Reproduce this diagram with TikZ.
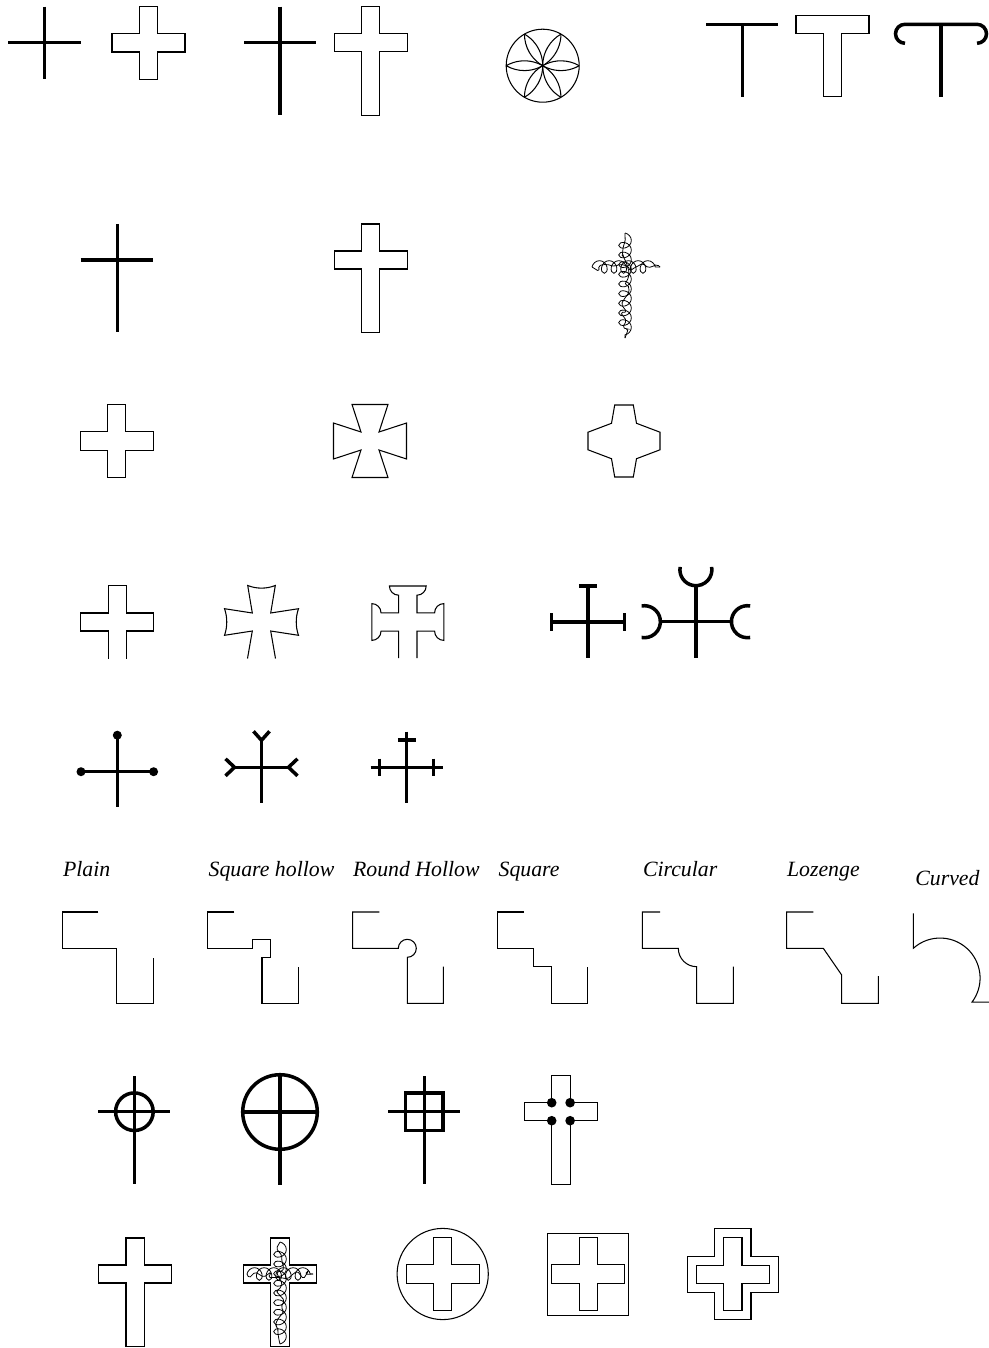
\documentclass[tikz,border=0pt]{standalone}
\usepackage{fontspec}
\setmainfont{Liberation Serif}
\usetikzlibrary{decorations.pathmorphing}
\tikzset{
  outline/.style={line width=0.6pt},
  bold/.style={line width=2pt},
  thorn/.style={line width=0.45pt, decorate, decoration={coil, amplitude=3.6pt, segment length=5.5pt, aspect=0.8}},
  bramble/.style={line width=0.45pt, rounded corners=1pt, decorate, decoration={random steps, segment length=3pt, amplitude=3pt}},
  lbl/.style={font=\fontsize{12.4}{14}\selectfont\itshape, inner sep=0pt, anchor=base west},
  pics/greek/.style 2 args={code={\draw[outline] (-#2,-#1) -- (#2,-#1) -- (#2,-#2) -- (#1,-#2) -- (#1,#2) -- (#2,#2) -- (#2,#1) -- (-#2,#1) -- (-#2,#2) -- (-#1,#2) -- (-#1,-#2) -- (-#2,-#2) -- cycle;}},
  pics/latin/.style={code={\draw[outline] (-9.2,-36) -- (9.2,-36) -- (9.2,-9) -- (36.5,-9) -- (36.5,9) -- (9.2,9) -- (9.2,72.5) -- (-9.2,72.5) -- (-9.2,9) -- (-36.5,9) -- (-36.5,-9) -- (-9.2,-9) -- cycle;}},
}
\begin{document}
\begin{tikzpicture}[x=0.02cm, y=-0.02cm]
\pgfmathsetseed{11}
\useasboundingbox (0,0) rectangle (989,1348);
\draw[bold] (44.5,6.7) -- (44.5,79);
\draw[bold] (8.3,42.7) -- (80.7,42.7);
\pic at (148.5,42.8) {greek={36.5}{9.2}};
\draw[bold] (280,6.7) -- (280,115);
\draw[bold] (244,42.7) -- (316,42.7);
\pic at (370.7,42.7) {latin};
\begin{scope}[shift={(542.7,65.7)}]
\draw[outline] (0,0) circle[radius=36.5];
\foreach \a in {0,60,...,300}
  \draw[outline] (\a+60:36.5) arc[start angle=\a+120, end angle=\a+240, radius=36.5];
\end{scope}
\draw[bold] (706,24.3) -- (778.3,24.3);
\draw[bold] (742.3,24.3) -- (742.3,96.7);
\draw[outline] (796,15.7) -- (869,15.7) -- (869,33.3) -- (841.7,33.3) -- (841.7,96.7) -- (823.3,96.7) -- (823.3,33.3) -- (796,33.3) -- cycle;
\draw[bold] (905,43.3) arc[start angle=90, end angle=270, radius=9.5] -- (977,24.3) arc[start angle=-90, end angle=90, radius=9.5];
\draw[bold] (941,24.3) -- (941,96.7);
\draw[bold] (117.3,224) -- (117.3,332.3);
\draw[bold] (80.7,260) -- (153.3,260);
\pic at (370.7,260) {latin};
\begin{scope}[shift={(625,267)}]
\draw[thorn] (0,-34) -- (0,71);
\draw[thorn] (-33,0) -- (35,0);
\draw[bramble] (0,-34) -- (0,71);
\draw[bramble] (-33,0) -- (35,0);
\end{scope}
\pic at (116.7,441) {greek={36.5}{9.2}};
\begin{scope}[shift={(370,441)}]
\draw[outline] (-18,-36.5) -- (18,-36.5) -- (9,-9) -- (36.5,-18) -- (36.5,18) -- (9,9) -- (18,36.5) -- (-18,36.5) -- (-9,9) -- (-36.5,18) -- (-36.5,-18) -- (-9,-9) -- cycle;
\end{scope}
\begin{scope}[shift={(624,441)}]
\draw[outline] (-9.3,-36) -- (9.3,-36) -- (12.5,-17.7) -- (36,-8.8) -- (36,8.8) -- (12.5,17.7) -- (9.3,36) -- (-9.3,36) -- (-12.5,17.7) -- (-36,8.8) -- (-36,-8.8) -- (-12.5,-17.7) -- cycle;
\end{scope}
\begin{scope}[shift={(117.4,622)}]
\draw[outline] (-9.2,36.5) -- (-9.2,9) -- (-36.5,9) -- (-36.5,-9) -- (-9.2,-9) -- (-9.2,-36.5) -- (9.2,-36.5) -- (9.2,-9) -- (36.5,-9) -- (36.5,9) -- (9.2,9) -- (9.2,36.5);
\end{scope}
\begin{scope}[shift={(261.5,622)}]
\draw[outline] (-14,36.5) -- (-9.2,9) -- (-37,13.3) .. controls (-34,5) and (-34,-5) .. (-37,-13.3) -- (-9.2,-9) -- (-13.8,-36.5) .. controls (-5,-33) and (5,-33) .. (13.8,-36.5) -- (9.2,-9) -- (37,-13.3) .. controls (34,-5) and (34,5) .. (37,13.3) -- (9.2,9) -- (14,36.5);
\end{scope}
\begin{scope}[shift={(407.8,622)}]
\draw[outline] (-9.2,36) -- (-9.2,9.2) -- (-26.8,9.2) arc[start angle=0, end angle=90, radius=9.2] -- (-36,-18.4) arc[start angle=270, end angle=360, radius=9.2] -- (-9.2,-9.2) -- (-9.2,-26.8) arc[start angle=90, end angle=180, radius=9.2] -- (18.4,-36) arc[start angle=0, end angle=90, radius=9.2] -- (9.2,-9.2) -- (26.8,-9.2) arc[start angle=180, end angle=270, radius=9.2] -- (36,18.4) arc[start angle=90, end angle=180, radius=9.2] -- (9.2,9.2) -- (9.2,36);
\end{scope}
\begin{scope}[shift={(588,622)}]
\draw[bold] (0,-36) -- (0,36);
\draw[bold] (-36.5,0) -- (36.5,0);
\draw[bold] (-9.2,-36) -- (9.2,-36);
\draw[bold] (-36.5,-9) -- (-36.5,9);
\draw[bold] (36.5,-9) -- (36.5,9);
\end{scope}
\begin{scope}[shift={(695.9,621.7)}]
\draw[bold] (0,-36) -- (0,36);
\draw[bold] (-35.5,0) -- (35.5,0);
\draw[bold] (190:16) ++(0,-52) arc[start angle=190, end angle=-10, radius=16];
\draw[bold] (-51.5,0) ++(-100:16) arc[start angle=-100, end angle=100, radius=16];
\draw[bold] (51.5,0) ++(-80:16) arc[start angle=-80, end angle=-280, radius=16];
\end{scope}
\begin{scope}[shift={(117.3,771.7)}]
\draw[bold] (0,-36.5) -- (0,35.6);
\draw[bold] (-36.3,0) -- (36.3,0);
\foreach \p in {(0,-36.5),(-36.3,0),(36.3,0)}
  \fill \p circle[radius=4.5];
\end{scope}
\begin{scope}[shift={(261.5,767.3)}]
\draw[bold] (0,-27) -- (0,36);
\draw[bold] (-27,0) -- (27,0);
\draw[bold] (-8,-36) -- (0,-27) -- (8,-36);
\draw[bold] (-36,-8.5) -- (-27,0) -- (-36,8.5);
\draw[bold] (36,-8.5) -- (27,0) -- (36,8.5);
\end{scope}
\begin{scope}[shift={(406.7,767.3)}]
\draw[bold] (0,-35.6) -- (0,36);
\draw[bold] (-36,0) -- (36,0);
\draw[bold] (-8.8,-27.3) -- (8.8,-27.3);
\draw[bold] (-27,-8.8) -- (-27,8.8);
\draw[bold] (27,-8.8) -- (27,8.8);
\end{scope}
\node[lbl] (plain) at (62.7,876) {Plain};
\node[lbl] (sqhollow) at (208.3,876) {Square hollow};
\node[lbl] (rdhollow) at (352.7,876) {Round Hollow};
\node[lbl] (square) at (498.3,876) {Square};
\node[lbl] (circular) at (642.7,876) {Circular};
\node[lbl] (lozenge) at (786.7,876) {Lozenge};
\node[lbl] (curved) at (915,885) {Curved};
\draw[outline] (98.3,912) -- (62.7,912) -- (62.7,948.3) -- (116.7,948.3) -- (116.7,1003.3) -- (153.3,1003.3) -- (153.3,957.7);
\draw[outline] (234.3,912) -- (207.3,912) -- (207.3,948.3) -- (252.7,948.3) -- (252.7,939.3) -- (270.7,939.3) -- (270.7,957.3) -- (262,957.3) -- (262,1003.3) -- (298.3,1003.3) -- (298.3,966.7);
\draw[outline] (379.3,912) -- (352.7,912) -- (352.7,948.3) -- (398.3,948.3) arc[start angle=180, end angle=450, radius=9] -- (407.3,1003.3) -- (443.3,1003.3) -- (443.3,966.7);
\draw[outline] (524,912) -- (497.3,912) -- (497.3,948.3) -- (533.3,948.3) -- (533.3,966.7) -- (551.7,966.7) -- (551.7,1003.3) -- (587.3,1003.3) -- (587.3,966.7);
\draw[outline] (660,912) -- (642.3,912) -- (642.3,948.3) -- (678.3,948.3) arc[start angle=180, end angle=90, radius=18.4] -- (696.7,1003.3) -- (733.3,1003.3) -- (733.3,966.7);
\draw[outline] (813.3,912) -- (786.7,912) -- (786.7,948.3) -- (823.3,948.3) -- (841.7,975) -- (841.7,1003.3) -- (878.3,1003.3) -- (878.3,976);
\draw[outline] (913.3,913.3) -- (913.3,948.3) arc[start angle=-132, end angle=37, radius=40] -- ++(18,0);
\begin{scope}[shift={(134.4,1111.7)}]
\draw[bold] (0,-35.7) -- (0,72.3);
\draw[bold] (-36,0) -- (36,0);
\draw[bold] (0,0) circle[radius=18.8];
\end{scope}
\begin{scope}[shift={(280,1112)}]
\draw[bold] (0,0) circle[radius=37.3];
\draw[bold] (0,-37.3) -- (0,73);
\draw[bold] (-37.3,0) -- (37.3,0);
\end{scope}
\begin{scope}[shift={(424.4,1111.7)}]
\draw[bold] (0,-35.7) -- (0,72.3);
\draw[bold] (-36,0) -- (36,0);
\draw[bold] (-18.8,-18.8) rectangle (18.8,18.8);
\end{scope}
\pic at (560.9,1111.7) {latin};
\foreach \p in {(551.7,1102.7),(570.1,1102.7),(551.7,1120.7),(570.1,1120.7)}
  \fill \p circle[radius=4.8];
\pic at (135.2,1274) {latin};
\pic at (280,1274) {latin};
\begin{scope}[shift={(280,1274)}]
\draw[thorn] (0,-32) -- (0,70);
\draw[thorn] (-33,0) -- (33,0);
\draw[bramble] (0,-32) -- (0,70);
\draw[bramble] (-33,0) -- (33,0);
\end{scope}
\pic at (442.7,1274) {greek={36.5}{9.2}};
\draw[outline] (442.7,1274) circle[radius=45.6];
\pic at (588.3,1274) {greek={36.5}{9.2}};
\draw[outline] (547.3,1233.3) rectangle (628.3,1315.7);
\pic at (732.8,1274.3) {greek={36.5}{9.2}};
\pic at (732.8,1274.3) {greek={45.5}{18.2}};
\end{tikzpicture}
\end{document}
